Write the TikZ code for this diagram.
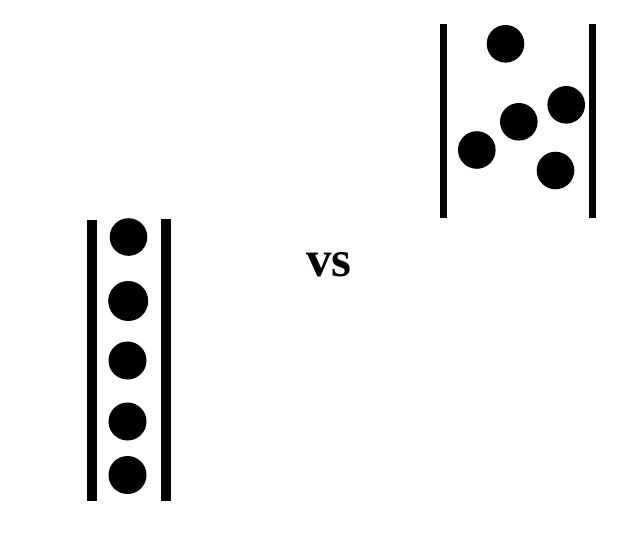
\documentclass[tikz,border=0pt]{standalone}
\usepackage{fontspec}
\setmainfont{Liberation Serif}
\begin{document}
\begin{tikzpicture}[x=1pt,y=-1pt]
\useasboundingbox (0,0) rectangle (636,533);

\draw[line width=10pt] (91.5,220) -- (91.5,501);
\draw[line width=10pt] (166,219) -- (166,501);
\fill (128.5,237) circle (18.8);
\fill (128.2,301) circle (20);
\fill (127.5,360.5) circle (19);
\fill (127.5,421.5) circle (19);
\fill (127.5,475) circle (19);

\node[font=\fontsize{51}{51}\selectfont\bfseries,anchor=base] (vs) at (329,276.5) {vs};

\draw[line width=7pt] (443.7,24) -- (443.7,218);
\draw[line width=7pt] (592,24) -- (592,218);
\fill (505.5,43.8) circle (18.8);
\fill (566.2,104.8) circle (18.8);
\fill (518.8,121.8) circle (18.8);
\fill (476.8,150) circle (18.8);
\fill (555.5,170.5) circle (18.8);
\end{tikzpicture}
\end{document}
